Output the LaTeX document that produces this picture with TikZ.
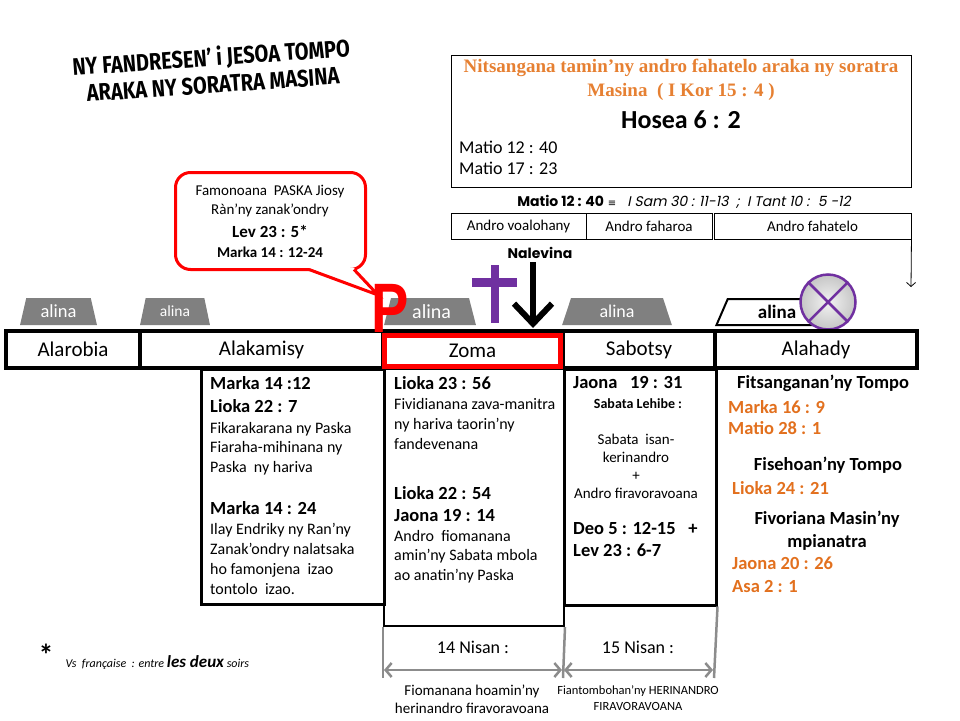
\documentclass[tikz,border=0pt]{standalone}
\usepackage{graphicx}
\usepackage{fontspec}
\setmainfont{Carlito}
\newfontfamily\titlefont{Fira Sans}
\newfontfamily\headfont{Liberation Serif}
\newfontfamily\gothfont[AutoFakeSlant=0.2]{Poppins}
\newfontfamily\pfont{Liberation Sans}
\newfontfamily\symfont{DejaVu Sans}
\usetikzlibrary{arrows.meta,shapes.geometric}
\definecolor{orangeref}{RGB}{226,112,30}
\definecolor{headorange}{RGB}{230,128,50}
\definecolor{tabgray}{RGB}{128,128,128}
\definecolor{crosspurple}{RGB}{112,48,160}
\definecolor{nisangray}{RGB}{140,140,140}
\newcommand\fsz[2]{\fontsize{#1}{#2}\selectfont}

\begin{document}
\begin{tikzpicture}[x=1pt,y=-1pt,
    daycell/.style={draw, line width=3.5pt, minimum height=37pt, inner sep=0pt, font=\fsz{21}{24}},
    tabshape/.style={trapezium, trapezium angle=75, trapezium stretches=true,
      minimum height=27pt, inner sep=0pt, fill=tabgray, text=white},
    colbox/.style={draw, line width=2.5pt, anchor=north west, inner sep=0pt},
    boldtxt/.style={font=\bfseries\fsz{18.5}{23}, align=left, anchor=north west, inner sep=0pt},
    plaintxt/.style={font=\fsz{16}{19.5}, align=left, anchor=north west, inner sep=0pt},
    orangetxt/.style={boldtxt, text=orangeref},
    androcell/.style={draw, line width=0.9pt, minimum height=26pt, inner sep=0pt, font=\fsz{15}{17}}]
    \useasboundingbox (0,0) rectangle (960,720);

    %% Draw the title
    \node[rotate=4, align=center, font=\titlefont\bfseries\fsz{20}{27}] (title) at (212,70)
      {\scalebox{1}[1.2]{NY FANDRESEN’ i JESOA TOMPO}\\\scalebox{1}[1.2]{ARAKA NY SORATRA MASINA}};

    %% Draw the reference box
    \node[draw, line width=0.9pt, minimum width=460, minimum height=132, anchor=north west, inner sep=0pt] (refbox) at (451,55) {};
    \node[font=\headfont\bfseries\fsz{19}{24}, text=headorange, align=center] (nits) at (681,80)
      {Nitsangana tamin’ny andro fahatelo araka ny soratra\\Masina ~( I Kor 15 : 4 )};
    \node[font=\bfseries\fsz{26}{28}] (hosea) at (681,120) {Hosea 6 : 2};
    \node[font=\fsz{18}{21}, align=left, anchor=west, inner sep=0pt] (matio) at (459,158) {Matio 12 : 40\\Matio 17 : 23};
    \node[font=\gothfont\fsz{14}{16}] (samtant) at (684,202)
      {\textbf{Matio 12 : 40} {\symfont\fsz{10}{12}≡} ~ \textit{I Sam 30 : 11-13 ~; ~I Tant 10 : ~5 -12}};
    \node[androcell, minimum width=135] (andro1) at (518.5,226) {Andro voalohany};
    \node[androcell, minimum width=126] (andro2) at (649,226) {Andro faharoa};
    \node[androcell, minimum width=197] (andro3) at (812.5,226) {Andro fahatelo};
    \coordinate (downend) at (911,287);
    \draw[line width=0.8pt, -{Straight Barb[length=4pt,width=9pt]}] (andro3.south east) -- (downend);

    %% Draw the columns
    \node[colbox, minimum width=183, minimum height=235] (kamisybox) at (200,368) {};
    \node[colbox, line width=2pt, minimum width=180, minimum height=257] (zomabox) at (383,368) {};
    \node[colbox, minimum width=152, minimum height=236] (sabotsybox) at (563,368) {};

    %% Draw the tabs
    \node[tabshape, minimum width=77, font=\fsz{18.5}{20}] (tab1) at (58.5,311.5) {alina};
    \node[tabshape, minimum width=70, font=\fsz{15.5}{17}] (tab2) at (175,311.5) {alina};
    \node[tabshape, minimum width=92, font=\fsz{20}{22}] (tab3) at (430,311.5) {\,alina};
    \node[tabshape, minimum width=110, font=\fsz{18}{20}] (tab4) at (617,311.5) {alina};
    \node[trapezium, trapezium left angle=72, trapezium right angle=90, trapezium stretches=true,
      draw, line width=2pt, minimum width=110, minimum height=26pt, inner sep=0pt,
      font=\bfseries\fsz{19}{21}] (tab5) at (777,312) {alina\hspace{34pt}};
    \node[circle, draw=crosspurple, line width=2.5pt, minimum size=55, inner sep=0pt,
      inner color=gray!10, outer color=gray!45] (stone) at (828,302) {};
    \draw[crosspurple, line width=2.5pt] (stone.north west) -- (stone.south east);
    \draw[crosspurple, line width=2.5pt] (stone.north east) -- (stone.south west);

    %% Draw the days
    \node[daycell, minimum width=134] (alarobia) at (73,349.5) {Alarobia};
    \node[daycell, minimum width=243] (alakamisy) at (261.5,349.5) {Alakamisy};
    \node[daycell, minimum width=180] (zomacell) at (473,349.5) {};
    \node[daycell, minimum width=152] (sabotsy) at (639,349.5) {Sabotsy};
    \node[daycell, minimum width=202] (alahady) at (816,349.5) {Alahady};
    \node[draw=red, line width=4.5pt, minimum width=176, minimum height=31, inner sep=0pt,
      font=\fsz{21}{24}] (zoma) at (472.5,351) {Zoma};

    %% Draw the cross and the burial arrow
    \fill[crosspurple] (491,265) rectangle (499,323);
    \fill[crosspurple] (472,278) rectangle (517,287);
    \node[font=\gothfont\bfseries\fsz{14}{16}] (nalevina) at (540,253) {Nalevina};
    \coordinate (nalend) at (533,328);
    \draw[line width=6pt, -{Straight Barb[length=20pt,width=38pt]}] (nalevina.south -| nalend) -- (nalend);

    %% Draw the callout
    \node[draw=red, line width=3pt, rounded corners=15pt, minimum width=190, minimum height=97, fill=white] (paska) at (270.5,221) {};
    \fill[white] (309,268) -- (378,295) -- (354,268) -- cycle;
    \draw[red, line width=3pt] (309,269.5) -- (378,295) -- (354,269.5);
    \node[font=\fsz{15}{19}, align=center] (paskatxt) at (270,201.5) {Famonoana ~PASKA Jiosy\\Ràn’ny zanak’ondry};
    \node[font=\bfseries\fsz{17}{19}] (lev) at (270,231) {Lev 23 : 5*};
    \node[font=\bfseries\fsz{15}{17}] (markap) at (270,252) {Marka 14 : 12-24};
    \node[text=red, font=\pfont\bfseries\fsz{70}{70}, inner sep=0pt] (pmark) at (390,308) {\scalebox{0.8}[1]{P}};

    %% Alakamisy
    \node[boldtxt] (kamisyA) at (210,376) {Marka 14 :12\\Lioka 22 : 7};
    \node[plaintxt] (kamisyB) at (210,422) {Fikarakarana ny Paska\\Fiaraha-mihinana ny\\Paska ~ny hariva};
    \node[boldtxt] (kamisyC) at (210,501) {Marka 14 : 24};
    \node[plaintxt, font=\fsz{16}{20}] (kamisyD) at (210,523) {Ilay Endriky ny Ran’ny\\Zanak’ondry nalatsaka\\ho famonjena ~izao\\tontolo ~izao.};

    %% Zoma
    \node[boldtxt] (zomaA) at (394,376) {Lioka 23 : 56};
    \node[plaintxt, font=\fsz{16}{20}] (zomaB) at (394,398) {Fividianana zava-manitra\\ny hariva taorin’ny\\fandevenana};
    \node[boldtxt, font=\bfseries\fsz{18.5}{22}] (zomaC) at (394,486) {Lioka 22 : 54\\Jaona 19 : 14};
    \node[plaintxt] (zomaD) at (394,530) {Andro ~fiomanana\\amin’ny Sabata mbola\\ao anatin’ny Paska};

    %% Sabotsy
    \node[boldtxt] (sabotsyA) at (573,376) {Jaona ~ 19 : 31};
    \node[font=\bfseries\fsz{14}{16}] (lehibe) at (638,404) {Sabata Lehibe :};
    \node[font=\fsz{15}{18}, align=center] (sabotsyB) at (636,466) {Sabata ~isan-\\kerinandro\\+\\Andro firavoravoana};
    \node[boldtxt, font=\bfseries\fsz{18.5}{22}] (sabotsyC) at (573,522) {Deo 5 : 12-15 ~ +\\Lev 23 : 6-7};

    %% Alahady
    \node[font=\bfseries\fsz{18.5}{22}] (fitsanganana) at (823,383) {Fitsanganan’ny Tompo};
    \node[orangetxt, font=\bfseries\fsz{18.5}{21}] (alahadyA) at (728,400) {Marka 16 : 9\\Matio 28 : 1};
    \node[font=\bfseries\fsz{18.5}{22}] (fisehoana) at (828,465) {Fisehoan’ny Tompo};
    \node[orangetxt] (alahadyB) at (732,481) {Lioka 24 : 21};
    \node[font=\bfseries\fsz{18.5}{23}, align=center] (fivoriana) at (827,531) {Fivoriana Masin’ny\\mpianatra};
    \node[orangetxt] (alahadyC) at (732,557) {Jaona 20 : 26\\Asa 2 : 1};

    %% Draw the footnote
    \node[anchor=base, font=\bfseries\fsz{30}{30}] (star) at (46,665) {*};
    \node[anchor=base west, font=\itshape\fsz{12}{14}] (vsnote) at (62,667)
      {Vs ~française ~: entre {\bfseries\fsz{17}{18}les deux} soirs};

    %% Draw the Nisan days
    \coordinate (g1) at (383,678);
    \coordinate (g2) at (563,678);
    \coordinate (g3) at (714,678);
    \coordinate (a1) at (384,670);
    \coordinate (a2) at (562,670);
    \coordinate (a3) at (564,670);
    \coordinate (a4) at (713,670);
    \begin{scope}[every path/.style={draw=nisangray, line width=2.5pt}]
      \draw (zomabox.south west) -- (g1);
      \draw (zomabox.south east) -- (g2);
      \draw (sabotsybox.south east) -- (g3);
      \draw[{Straight Barb[length=6pt,width=14pt]}-{Straight Barb[length=6pt,width=14pt]}] (a1) -- (a2);
      \draw[{Straight Barb[length=6pt,width=14pt]}-{Straight Barb[length=6pt,width=14pt]}] (a3) -- (a4);
    \end{scope}
    \node[font=\fsz{18}{20}] (nisan14) at (473,647) {14 Nisan :};
    \node[font=\fsz{18}{20}] (nisan15) at (638,647) {15 Nisan :};
    \node[font=\fsz{15}{18}, align=center] (fiomanana) at (472,699) {Fiomanana hoamin’ny\\herinandro firavoravoana};
    \node[font=\fsz{12.5}{16}, align=center] (fiantombohana) at (638,698) {Fiantombohan’ny HERINANDRO\\FIRAVORAVOANA};
  \end{tikzpicture}
\end{document}
